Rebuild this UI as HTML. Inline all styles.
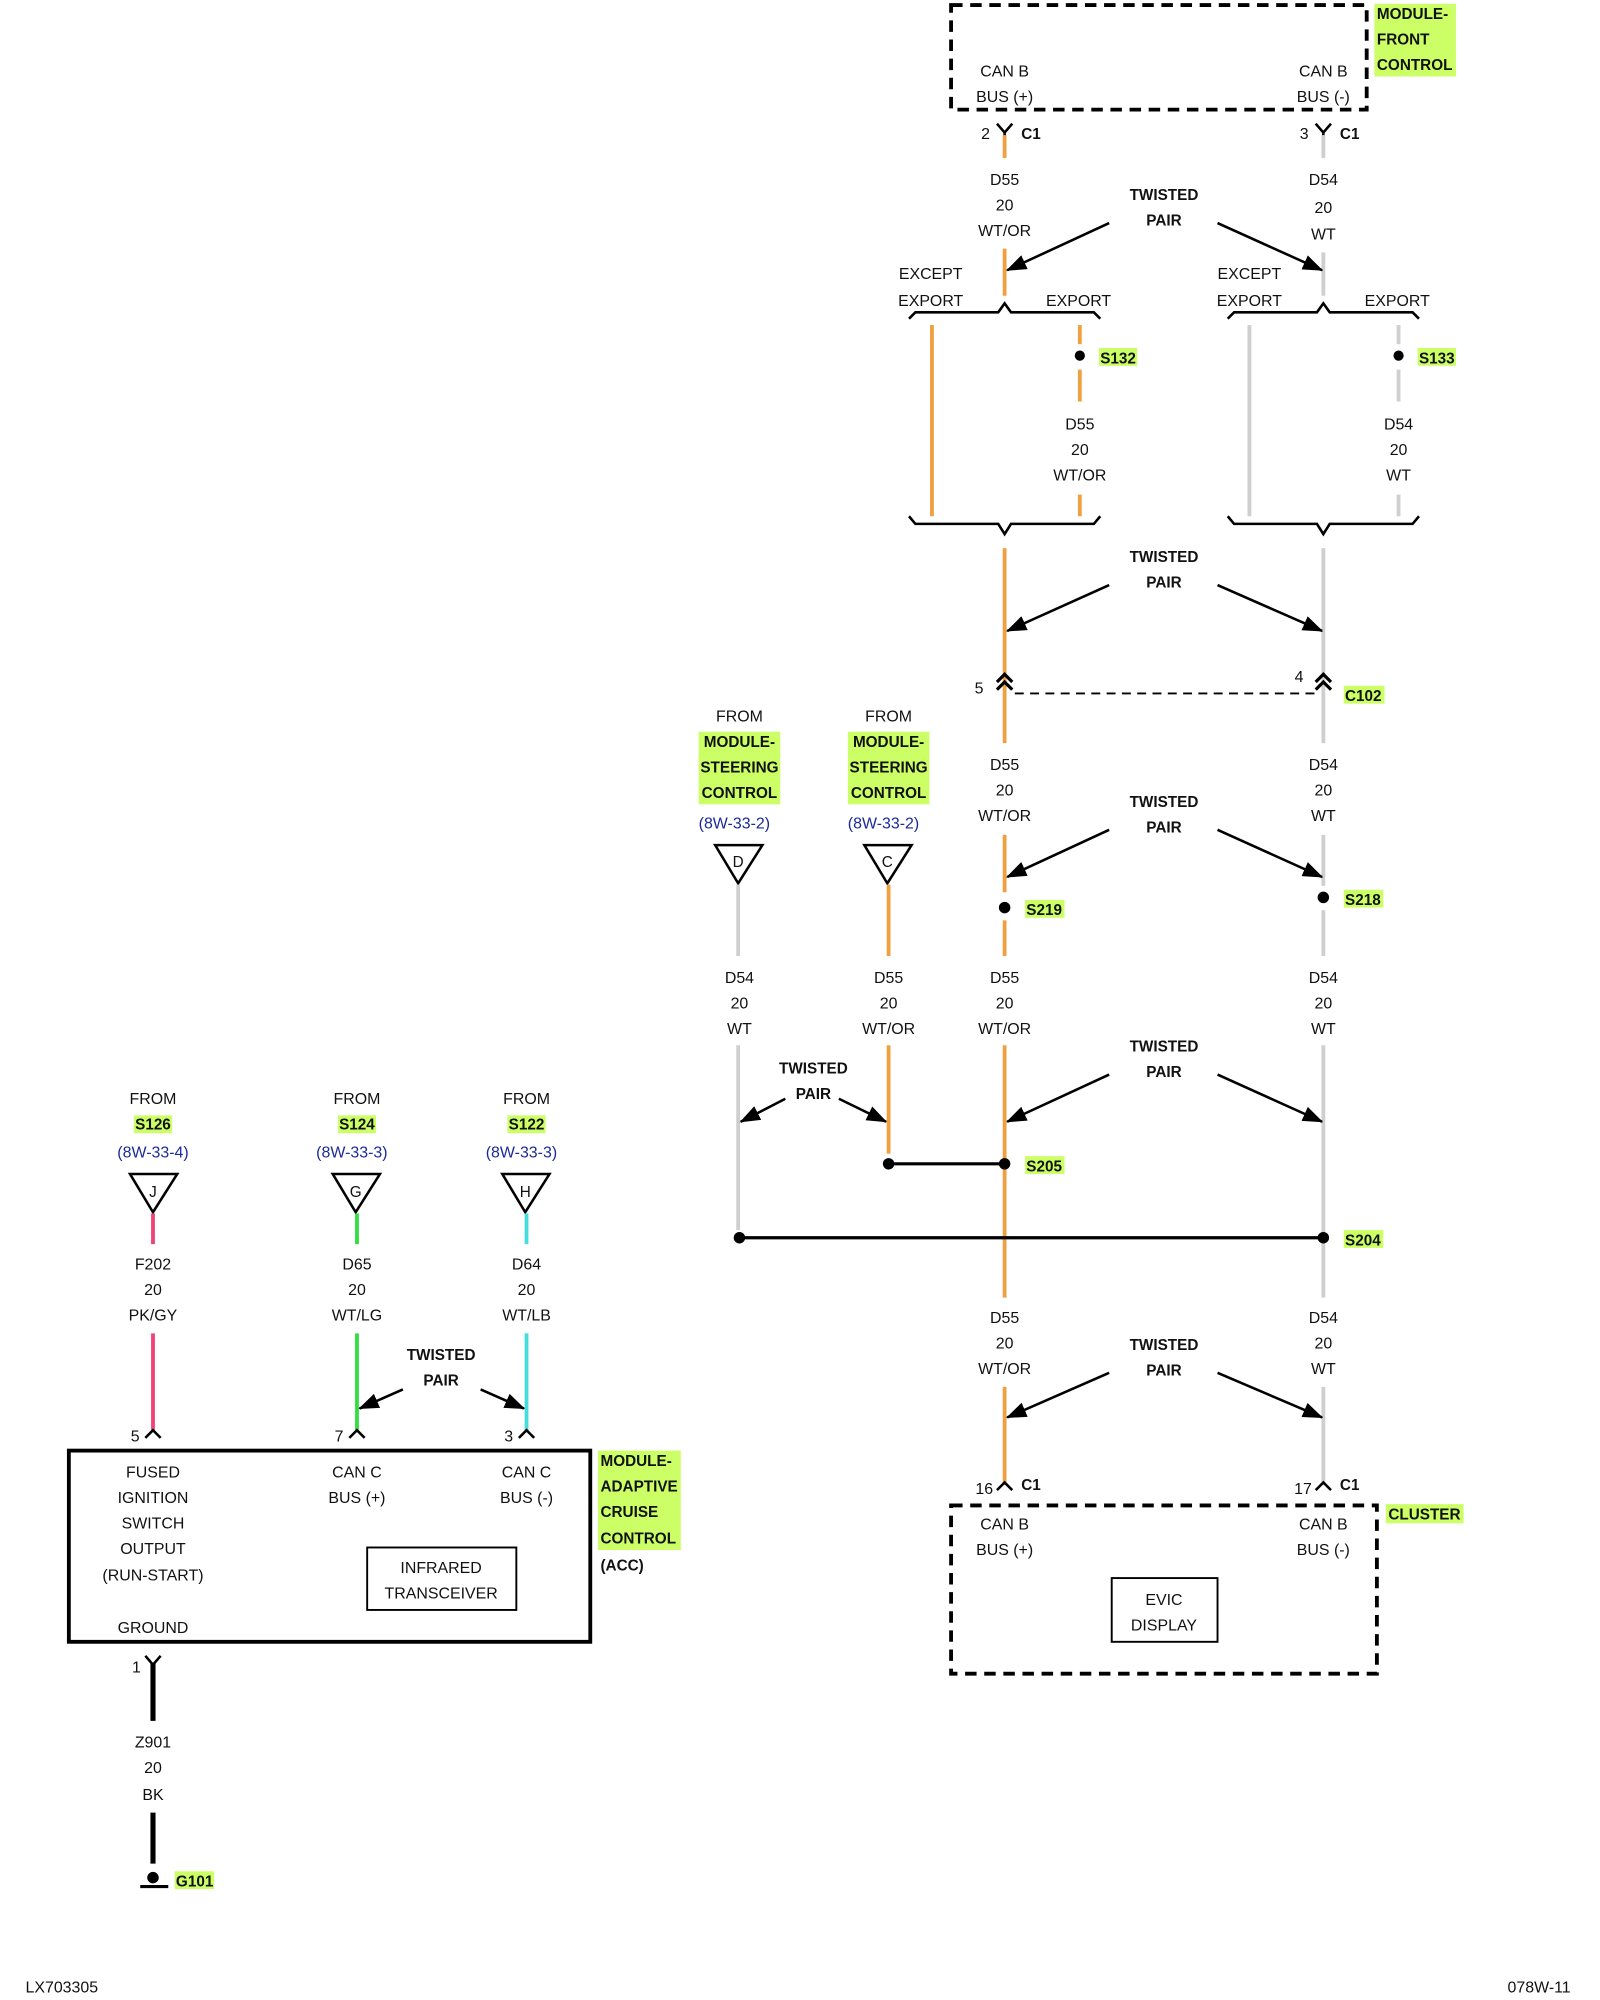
<!DOCTYPE html>
<html><head><meta charset="utf-8"><style>
html,body{margin:0;padding:0;background:#fff}
svg{display:block}
text{font-family:"Liberation Sans",Arial,sans-serif;font-size:12.5px;fill:#111;text-anchor:middle}
.b{font-weight:bold;font-size:12px}
.bl{fill:#1a2a9a}
.hl{fill:#ccff66}
.l{text-anchor:start}
.or{stroke:#f0a040;stroke-width:3;fill:none}
.gy{stroke:#cfcfcf;stroke-width:3;fill:none}
.k{stroke:#000;fill:none;stroke-width:2}
</style></head><body>
<svg width="1600" height="2000" viewBox="0 0 1255 1569" preserveAspectRatio="none" xmlns="http://www.w3.org/2000/svg">
<defs>
<marker id="ah" markerWidth="16" markerHeight="12" refX="15" refY="6" orient="auto" markerUnits="userSpaceOnUse" viewBox="0 0 16 12"><path d="M0,0 L16,6 L0,12 z" fill="#000"/></marker></defs>

<!-- Module front control -->
<rect x="746" y="4" width="326" height="82" fill="none" stroke="#000" stroke-width="3" stroke-dasharray="9,6"/>
<rect x="1078" y="3" width="64" height="57" class="hl"/>
<text class="b l" x="1080" y="15">MODULE-</text><text class="b l" x="1080" y="35">FRONT</text><text class="b l" x="1080" y="55">CONTROL</text>
<text x="788" y="60">CAN B</text><text x="788" y="80">BUS (+)</text>
<text x="1038" y="60">CAN B</text><text x="1038" y="80">BUS (-)</text>
<path class="k" d="M782,97 L788,104 L794,97 M788,104 V108"/><text x="773" y="109">2</text><text class="b l" x="801" y="109">C1</text>
<path class="k" d="M1032,97 L1038,104 L1044,97 M1038,104 V108"/><text x="1023" y="109">3</text><text class="b l" x="1051" y="109">C1</text>
<line class="or" x1="788" y1="106" x2="788" y2="124"/><line class="gy" x1="1038" y1="106" x2="1038" y2="124"/>
<text x="788" y="145">D55</text><text x="788" y="165">20</text><text x="788" y="185">WT/OR</text>
<text x="1038" y="145">D54</text><text x="1038" y="167">20</text><text x="1038" y="188">WT</text>
<line class="or" x1="788" y1="195" x2="788" y2="232"/><line class="gy" x1="1038" y1="198" x2="1038" y2="232"/>
<text class="b" x="913" y="157">TWISTED</text><text class="b" x="913" y="177">PAIR</text>
<line class="k" x1="870" y1="175" x2="790" y2="212" marker-end="url(#ah)"/>
<line class="k" x1="955" y1="175" x2="1037" y2="212" marker-end="url(#ah)"/>
<text x="730" y="219">EXCEPT</text><text x="730" y="240">EXPORT</text><text x="846" y="240">EXPORT</text>
<text x="980" y="219">EXCEPT</text><text x="980" y="240">EXPORT</text><text x="1096" y="240">EXPORT</text>
<path class="k" d="M713,250 L718,245 L783,245 L788,238 L793,245 L858,245 L863,250"/>
<path class="k" d="M963,250 L968,245 L1033,245 L1038,238 L1043,245 L1108,245 L1113,250"/>
<line class="or" x1="731" y1="255" x2="731" y2="405"/>
<line class="or" x1="847" y1="255" x2="847" y2="270"/><circle cx="847" cy="279" r="4"/><line class="or" x1="847" y1="290" x2="847" y2="315"/><line class="or" x1="847" y1="388" x2="847" y2="405"/>
<rect x="862" y="273" width="30" height="14" class="hl"/><text class="b l" x="863" y="285">S132</text>
<text x="847" y="337">D55</text><text x="847" y="357">20</text><text x="847" y="377">WT/OR</text>
<line class="gy" x1="980" y1="255" x2="980" y2="405"/>
<line class="gy" x1="1097" y1="255" x2="1097" y2="270"/><circle cx="1097" cy="279" r="4"/><line class="gy" x1="1097" y1="290" x2="1097" y2="315"/><line class="gy" x1="1097" y1="388" x2="1097" y2="405"/>
<rect x="1112" y="273" width="30" height="14" class="hl"/><text class="b l" x="1113" y="285">S133</text>
<text x="1097" y="337">D54</text><text x="1097" y="357">20</text><text x="1097" y="377">WT</text>
<path class="k" d="M713,405 L718,411 L783,411 L788,419 L793,411 L858,411 L863,405"/>
<path class="k" d="M963,405 L968,411 L1033,411 L1038,419 L1043,411 L1108,411 L1113,405"/>
<line class="or" x1="788" y1="430" x2="788" y2="583"/><line class="gy" x1="1038" y1="430" x2="1038" y2="583"/>
<text class="b" x="913" y="441">TWISTED</text><text class="b" x="913" y="461">PAIR</text>
<line class="k" x1="870" y1="459" x2="790" y2="495" marker-end="url(#ah)"/>
<line class="k" x1="955" y1="459" x2="1037" y2="495" marker-end="url(#ah)"/>
<path d="M782,535 L788,529 L794,535 M782,541 L788,535 L794,541" stroke="#000" stroke-width="2.5" fill="none"/>
<path d="M1032,535 L1038,529 L1044,535 M1032,541 L1038,535 L1044,541" stroke="#000" stroke-width="2.5" fill="none"/>
<line x1="796" y1="544" x2="1032" y2="544" stroke="#000" stroke-width="1.5" stroke-dasharray="7,5"/>
<text x="768" y="544">5</text><text x="1019" y="535">4</text>
<rect x="1054" y="538" width="32" height="14" class="hl"/><text class="b l" x="1055" y="550">C102</text>
<text x="788" y="604">D55</text><text x="788" y="624">20</text><text x="788" y="644">WT/OR</text>
<text x="1038" y="604">D54</text><text x="1038" y="624">20</text><text x="1038" y="644">WT</text>
<line class="or" x1="788" y1="655" x2="788" y2="700"/><line class="gy" x1="1038" y1="655" x2="1038" y2="695"/>
<text class="b" x="913" y="633">TWISTED</text><text class="b" x="913" y="653">PAIR</text>
<line class="k" x1="870" y1="651" x2="790" y2="688" marker-end="url(#ah)"/>
<line class="k" x1="955" y1="651" x2="1037" y2="688" marker-end="url(#ah)"/>
<circle cx="788" cy="712" r="4.5"/><rect x="804" y="706" width="31" height="14" class="hl"/><text class="b l" x="805" y="718">S219</text>
<circle cx="1038" cy="704" r="4.5"/><rect x="1054" y="698" width="31" height="14" class="hl"/><text class="b l" x="1055" y="710">S218</text>
<line class="or" x1="788" y1="722" x2="788" y2="750"/><line class="gy" x1="1038" y1="714" x2="1038" y2="750"/>
<text x="580" y="566">FROM</text><text x="697" y="566">FROM</text>
<rect x="548" y="574" width="64" height="57" class="hl"/><rect x="665" y="574" width="64" height="57" class="hl"/>
<text class="b" x="580" y="586">MODULE-</text><text class="b" x="580" y="606">STEERING</text><text class="b" x="580" y="626">CONTROL</text>
<text class="b" x="697" y="586">MODULE-</text><text class="b" x="697" y="606">STEERING</text><text class="b" x="697" y="626">CONTROL</text>
<text class="bl" x="576" y="650">(8W-33-2)</text><text class="bl" x="693" y="650">(8W-33-2)</text>
<path class="k" d="M561,663 L598,663 L579,693 Z"/><text x="579" y="680" style="font-size:12px">D</text>
<path class="k" d="M678,663 L715,663 L696,693 Z"/><text x="696" y="680" style="font-size:12px">C</text>
<line class="gy" x1="579" y1="694" x2="579" y2="750"/><line class="or" x1="697" y1="694" x2="697" y2="750"/>
<text x="580" y="771">D54</text><text x="580" y="791">20</text><text x="580" y="811">WT</text>
<text x="697" y="771">D55</text><text x="697" y="791">20</text><text x="697" y="811">WT/OR</text>
<text x="788" y="771">D55</text><text x="788" y="791">20</text><text x="788" y="811">WT/OR</text>
<text x="1038" y="771">D54</text><text x="1038" y="791">20</text><text x="1038" y="811">WT</text>
<line class="gy" x1="579" y1="820" x2="579" y2="965"/><line class="or" x1="697" y1="820" x2="697" y2="905"/>
<line class="or" x1="788" y1="820" x2="788" y2="1018"/><line class="gy" x1="1038" y1="820" x2="1038" y2="1018"/>
<text class="b" x="638" y="842">TWISTED</text><text class="b" x="638" y="862">PAIR</text>
<line class="k" x1="616" y1="862" x2="581" y2="880" marker-end="url(#ah)"/>
<line class="k" x1="658" y1="862" x2="695" y2="880" marker-end="url(#ah)"/>
<text class="b" x="913" y="825">TWISTED</text><text class="b" x="913" y="845">PAIR</text>
<line class="k" x1="870" y1="843" x2="790" y2="880" marker-end="url(#ah)"/>
<line class="k" x1="955" y1="843" x2="1037" y2="880" marker-end="url(#ah)"/>
<circle cx="697" cy="913" r="4.5"/><circle cx="788" cy="913" r="4.5"/><line x1="697" y1="913" x2="788" y2="913" stroke="#000" stroke-width="2.5"/>
<rect x="804" y="907" width="31" height="14" class="hl"/><text class="b l" x="805" y="919">S205</text>
<circle cx="580" cy="971" r="4.5"/><circle cx="1038" cy="971" r="4.5"/><line x1="580" y1="971" x2="1038" y2="971" stroke="#000" stroke-width="2.5"/>
<rect x="1054" y="965" width="31" height="14" class="hl"/><text class="b l" x="1055" y="977">S204</text>
<text x="788" y="1038">D55</text><text x="788" y="1058">20</text><text x="788" y="1078">WT/OR</text>
<text x="1038" y="1038">D54</text><text x="1038" y="1058">20</text><text x="1038" y="1078">WT</text>
<line class="or" x1="788" y1="1088" x2="788" y2="1165"/><line class="gy" x1="1038" y1="1088" x2="1038" y2="1165"/>
<text class="b" x="913" y="1059">TWISTED</text><text class="b" x="913" y="1079">PAIR</text>
<line class="k" x1="870" y1="1077" x2="790" y2="1112" marker-end="url(#ah)"/>
<line class="k" x1="955" y1="1077" x2="1037" y2="1112" marker-end="url(#ah)"/>
<path class="k" d="M782,1169 L788,1163 L794,1169"/><text x="772" y="1172">16</text><text class="b l" x="801" y="1169">C1</text>
<path class="k" d="M1032,1169 L1038,1163 L1044,1169"/><text x="1022" y="1172">17</text><text class="b l" x="1051" y="1169">C1</text>
<rect x="746" y="1181" width="334" height="132" fill="none" stroke="#000" stroke-width="3" stroke-dasharray="9,6"/>
<rect x="1087" y="1180" width="61" height="15" class="hl"/><text class="b l" x="1089" y="1192">CLUSTER</text>
<text x="788" y="1200">CAN B</text><text x="788" y="1220">BUS (+)</text>
<text x="1038" y="1200">CAN B</text><text x="1038" y="1220">BUS (-)</text>
<rect x="872" y="1238" width="83" height="50" fill="none" stroke="#000" stroke-width="1.5"/>
<text x="913" y="1259">EVIC</text><text x="913" y="1279">DISPLAY</text>
<text x="120" y="866">FROM</text><text x="280" y="866">FROM</text><text x="413" y="866">FROM</text>
<rect x="105" y="875" width="30" height="14" class="hl"/><rect x="265" y="875" width="30" height="14" class="hl"/><rect x="398" y="875" width="30" height="14" class="hl"/>
<text class="b" x="120" y="886">S126</text><text class="b" x="280" y="886">S124</text><text class="b" x="413" y="886">S122</text>
<text class="bl" x="120" y="908">(8W-33-4)</text><text class="bl" x="276" y="908">(8W-33-3)</text><text class="bl" x="409" y="908">(8W-33-3)</text>
<path class="k" d="M102,921 L139,921 L120,951 Z"/><text x="120" y="939" style="font-size:12px">J</text>
<path class="k" d="M261,921 L298,921 L279,951 Z"/><text x="279" y="939" style="font-size:12px">G</text>
<path class="k" d="M394,921 L431,921 L412,951 Z"/><text x="412" y="939" style="font-size:12px">H</text>
<line stroke="#ee4477" stroke-width="3" x1="120" y1="952" x2="120" y2="976"/>
<line stroke="#33dd44" stroke-width="3" x1="280" y1="952" x2="280" y2="976"/>
<line stroke="#44dddd" stroke-width="3" x1="413" y1="952" x2="413" y2="976"/>
<text x="120" y="996">F202</text><text x="120" y="1016">20</text><text x="120" y="1036">PK/GY</text>
<text x="280" y="996">D65</text><text x="280" y="1016">20</text><text x="280" y="1036">WT/LG</text>
<text x="413" y="996">D64</text><text x="413" y="1016">20</text><text x="413" y="1036">WT/LB</text>
<line stroke="#ee4477" stroke-width="3" x1="120" y1="1046" x2="120" y2="1122"/>
<line stroke="#33dd44" stroke-width="3" x1="280" y1="1046" x2="280" y2="1122"/>
<line stroke="#44dddd" stroke-width="3" x1="413" y1="1046" x2="413" y2="1122"/>
<text class="b" x="346" y="1067">TWISTED</text><text class="b" x="346" y="1087">PAIR</text>
<line class="k" x1="316" y1="1090" x2="282" y2="1105" marker-end="url(#ah)"/>
<line class="k" x1="377" y1="1090" x2="411" y2="1105" marker-end="url(#ah)"/>
<path class="k" d="M114,1128 L120,1122 L126,1128"/><text x="106" y="1131">5</text>
<path class="k" d="M274,1128 L280,1122 L286,1128"/><text x="266" y="1131">7</text>
<path class="k" d="M407,1128 L413,1122 L419,1128"/><text x="399" y="1131">3</text>
<rect x="54" y="1138" width="409" height="150" fill="none" stroke="#000" stroke-width="3"/>
<text x="120" y="1159">FUSED</text><text x="120" y="1179">IGNITION</text><text x="120" y="1199">SWITCH</text><text x="120" y="1219">OUTPUT</text><text x="120" y="1240">(RUN-START)</text><text x="120" y="1281">GROUND</text>
<text x="280" y="1159">CAN C</text><text x="280" y="1179">BUS (+)</text>
<text x="413" y="1159">CAN C</text><text x="413" y="1179">BUS (-)</text>
<rect x="288" y="1214" width="117" height="49" fill="none" stroke="#000" stroke-width="1.5"/>
<text x="346" y="1234">INFRARED</text><text x="346" y="1254">TRANSCEIVER</text>
<rect x="469" y="1138" width="65" height="78" class="hl"/>
<text class="b l" x="471" y="1150">MODULE-</text><text class="b l" x="471" y="1170">ADAPTIVE</text><text class="b l" x="471" y="1190">CRUISE</text><text class="b l" x="471" y="1211">CONTROL</text><text class="b l" x="471" y="1232">(ACC)</text>
<path class="k" d="M114,1299 L120,1306 L126,1299"/><text x="107" y="1312">1</text>
<line stroke="#000" stroke-width="4" x1="120" y1="1305" x2="120" y2="1350"/>
<text x="120" y="1371">Z901</text><text x="120" y="1391">20</text><text x="120" y="1412">BK</text>
<line stroke="#000" stroke-width="4" x1="120" y1="1422" x2="120" y2="1462"/>
<circle cx="120" cy="1473" r="4.5"/><line stroke="#000" stroke-width="2.5" x1="110" y1="1480" x2="132" y2="1480"/>
<rect x="137" y="1468" width="31" height="14" class="hl"/><text class="b l" x="138" y="1480">G101</text>
<text class="l" x="20" y="1563">LX703305</text>
<text x="1232" y="1563" style="text-anchor:end">078W-11</text>
</svg>
</body></html>
